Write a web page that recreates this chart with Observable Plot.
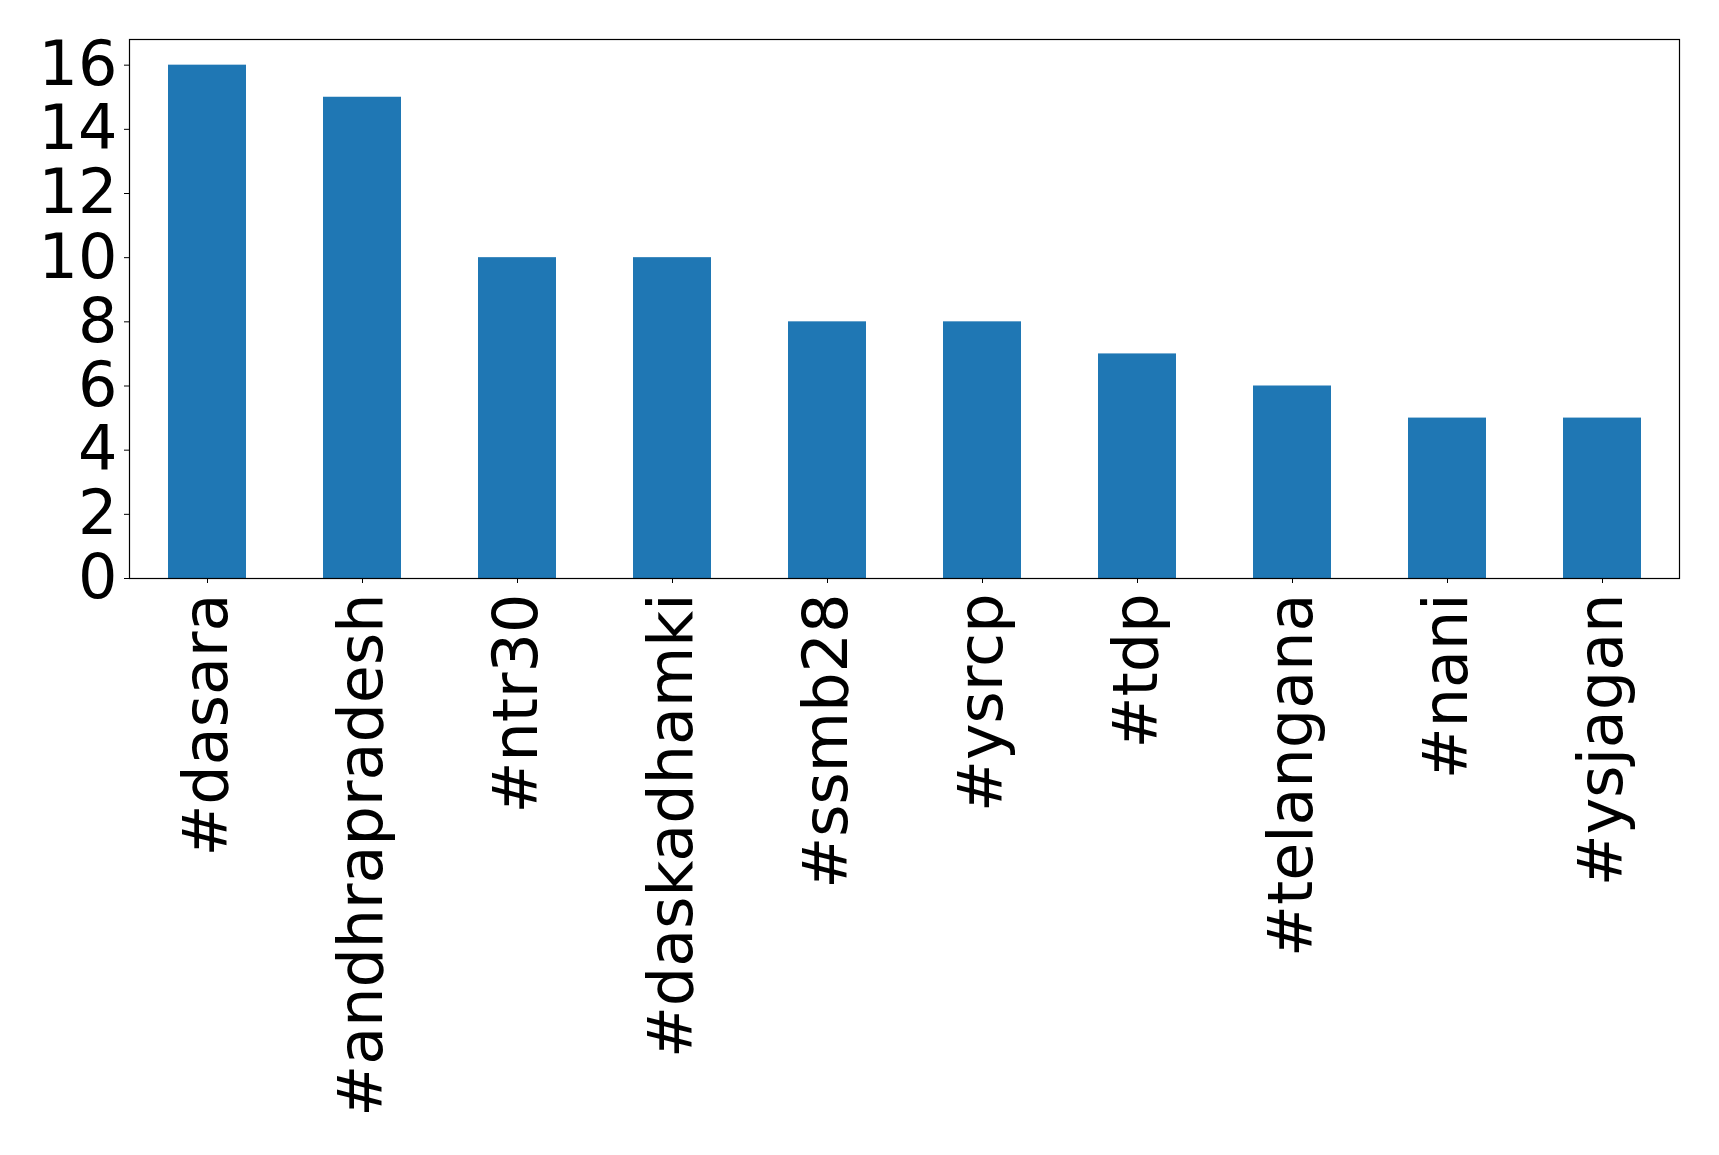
<!DOCTYPE html>
<html>
<head>
<meta charset="utf-8">
<script src="https://cdn.jsdelivr.net/npm/d3@7"></script>
<script src="https://cdn.jsdelivr.net/npm/@observablehq/plot@0.6"></script>
<style>
  html, body { margin: 0; padding: 0; background: #fff; }
  #chart svg { display: block; }
</style>
</head>
<body>
<div id="chart"></div>
<script>
const hashtags = ["#dasara", "#andhrapradesh", "#ntr30", "#daskadhamki", "#ssmb28", "#ysrcp", "#tdp", "#telangana", "#nani", "#ysjagan"];
const counts = [16, 15, 10, 10, 8, 8, 7, 6, 5, 5];
const yTicks = [0, 2, 4, 6, 8, 10, 12, 14, 16];

const data = hashtags.map((h, i) => ({tag: h, count: counts[i]}));

const chart = Plot.plot({
  width: 1719,
  height: 1155,
  marginLeft: 129,
  marginRight: 40,
  marginTop: 39,
  marginBottom: 577,
  style: {fontFamily: "'DejaVu Sans', sans-serif", fontSize: "62px", color: "#000", background: "#fff"},
  x: {domain: hashtags, paddingInner: 0.5, paddingOuter: 0.25, label: null},
  y: {domain: [0, 16.8], label: null},
  marks: [
    Plot.barY(data, {x: "tag", y: "count", fill: "#1f77b4"}),
    Plot.axisY({ticks: yTicks, tickSize: 5, tickPadding: 7, fontSize: 62, label: null, tickFormat: d => String(d)}),
    Plot.axisX({tickSize: 5, tickPadding: 10, tickRotate: -90, fontSize: 62, label: null}),
    Plot.frame({stroke: "#000", strokeWidth: 1.2})
  ]
});
document.getElementById("chart").appendChild(chart);
</script>
</body>
</html>
